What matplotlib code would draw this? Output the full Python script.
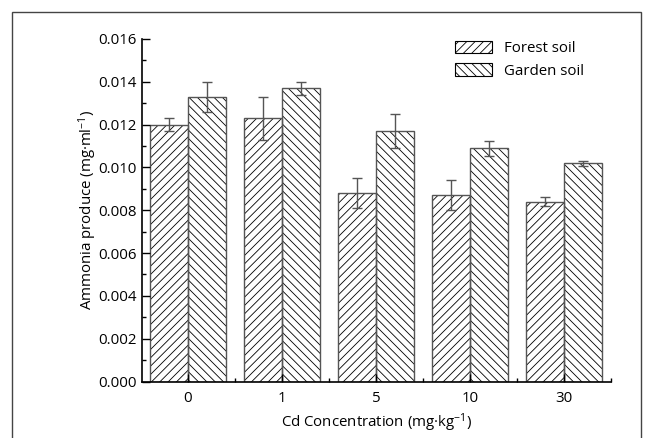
import numpy as np
import matplotlib
matplotlib.use("Agg")
import matplotlib.pyplot as plt
from matplotlib.patches import Rectangle
from matplotlib.ticker import MultipleLocator

plt.rcParams['font.family'] = ['Open Sans', 'DejaVu Sans']
plt.rcParams['mathtext.default'] = 'regular'
plt.rcParams['hatch.linewidth'] = 0.6

# data
categories = ['0', '1', '5', '10', '30']
forest = [0.0120, 0.0123, 0.0088, 0.0087, 0.0084]
forest_err = [0.0003, 0.0010, 0.0007, 0.0007, 0.0002]
garden = [0.0133, 0.0137, 0.0117, 0.0109, 0.0102]
garden_err = [0.0007, 0.0003, 0.0008, 0.00035, 0.00012]

fs = 10.8

fig = plt.figure(figsize=(6.5, 4.38), dpi=100)
ax = fig.add_axes([142/650, 1 - 381.5/438, (611-142)/650, (381.5-39)/438])

x = np.arange(len(categories))
w = 0.4

# hatch fill (black), then grey outline on top
ax.bar(x - w/2, forest, w, color='white', edgecolor='black', hatch='////', linewidth=0)
ax.bar(x + w/2, garden, w, color='white', edgecolor='black', hatch='\\\\\\\\', linewidth=0)
ax.bar(x - w/2, forest, w, fill=False, edgecolor='#555555', linewidth=1)
ax.bar(x + w/2, garden, w, fill=False, edgecolor='#555555', linewidth=1)

ax.errorbar(x - w/2, forest, yerr=forest_err, fmt='none', ecolor='#555555',
            elinewidth=1, capsize=3.5, capthick=1)
ax.errorbar(x + w/2, garden, yerr=garden_err, fmt='none', ecolor='#555555',
            elinewidth=1, capsize=3.5, capthick=1)

ax.set_xlim(-0.49, 4.5)
ax.set_ylim(0, 0.016)
ax.set_xticks(x)
ax.set_xticklabels(categories)
ax.xaxis.set_minor_locator(MultipleLocator(1, offset=0.5))
ax.yaxis.set_major_locator(MultipleLocator(0.002))
ax.yaxis.set_minor_locator(MultipleLocator(0.001))
ax.yaxis.set_major_formatter(matplotlib.ticker.FormatStrFormatter('%.3f'))

for s in ['top', 'right']:
    ax.spines[s].set_visible(False)
for s in ['left', 'bottom']:
    ax.spines[s].set_linewidth(1.2)
    ax.spines[s].set_color('black')

ax.tick_params(which='major', direction='in', length=5.5, width=1, labelsize=fs)
ax.tick_params(which='minor', direction='in', length=3, width=1)
ax.tick_params(axis='x', which='major', pad=7)
ax.tick_params(axis='y', which='major', pad=4)

ax.set_ylabel('Ammonia produce (mg·ml$^{-1}$)', fontsize=fs, labelpad=-1)
ax.set_xlabel('Cd Concentration (mg·kg$^{-1}$)', fontsize=fs, labelpad=4)

leg_handles = [Rectangle((0, 0), 1, 1, facecolor='white', edgecolor='black', hatch='////', linewidth=0.8),
               Rectangle((0, 0), 1, 1, facecolor='white', edgecolor='black', hatch='\\\\\\\\', linewidth=0.8)]
ax.legend(leg_handles, ['Forest soil', 'Garden soil'], frameon=False, fontsize=fs,
          loc='upper left', bbox_to_anchor=(455/650, 1 - 41/438), bbox_transform=fig.transFigure,
          borderpad=0, borderaxespad=0, handlelength=2.5, handleheight=0.9,
          handletextpad=0.75, labelspacing=0.45)

# outer frame around the figure (bottom edge cropped away)
fig.patches.append(Rectangle((12/650, -0.1), (641-12)/650, 1 - 12/438 + 0.1,
                             transform=fig.transFigure, fill=False,
                             edgecolor='#444444', linewidth=1, clip_on=False))

fig.savefig('out.png', dpi=100)
